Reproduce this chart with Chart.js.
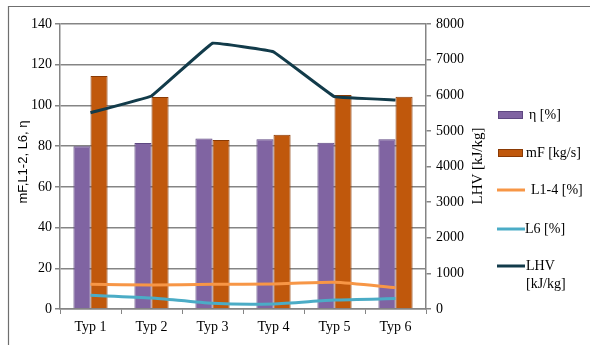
<!DOCTYPE html>
<html>
<head>
<meta charset="utf-8">
<script src="https://cdn.jsdelivr.net/npm/chart.js@4"></script>
<style>
  html, body { margin: 0; padding: 0; background: #fff; }
  #wrap { width: 590px; height: 345px; position: relative; }
</style>
</head>
<body>
<div id="wrap"><canvas id="c" width="590" height="345"></canvas></div>
<script>
// Categories and series
const categories = ['Typ 1', 'Typ 2', 'Typ 3', 'Typ 4', 'Typ 5', 'Typ 6'];
const etaValues  = [80, 81.5, 83.8, 83.4, 81.7, 83.4];       // η [%]
const mFValues   = [114.5, 104.1, 83, 85.6, 105.1, 104.3];   // mF [kg/s]
const l14Values  = [12.1, 11.8, 12.1, 12.3, 13.1, 10.5];     // L1-4 [%]
const l6Values   = [6.7, 5.4, 2.8, 2.5, 4.4, 5.1];           // L6 [%]
const lhvValues  = [5510, 5980, 7460, 7220, 5960, 5870];     // LHV [kJ/kg]

const leftTicks  = { min: 0, max: 140, step: 20 };
const rightTicks = { min: 0, max: 8000, step: 1000 };

const seriesLabels = ['η [%]', 'mF [kg/s]', 'L1-4 [%]', 'L6 [%]', 'LHV [kJ/kg]'];

const serif = "'Liberation Serif', 'Times New Roman', serif";
const gridGray = '#858585';

// Frame, axis titles and legend on the right
const decorations = {
  id: 'decorations',
  afterDraw(chart) {
    const ctx = chart.ctx;
    ctx.save();
    // frame lines
    ctx.strokeStyle = '#6f6f6f';
    ctx.lineWidth = 1.2;
    ctx.beginPath();
    ctx.moveTo(8.5, 345);
    ctx.lineTo(8.5, 6.5);
    ctx.lineTo(590, 6.5);
    ctx.stroke();

    // left axis title
    ctx.fillStyle = '#000';
    ctx.save();
    ctx.translate(23, 162);
    ctx.rotate(-Math.PI / 2);
    ctx.font = "13px 'Liberation Sans', Arial, sans-serif";
    ctx.textAlign = 'center';
    ctx.textBaseline = 'middle';
    ctx.fillText('mF,L1-2, L6, η', 0, 0);
    ctx.restore();

    // right axis title
    ctx.save();
    ctx.translate(478, 166);
    ctx.rotate(-Math.PI / 2);
    ctx.font = '15px ' + serif;
    ctx.textAlign = 'center';
    ctx.textBaseline = 'middle';
    ctx.fillText('LHV [kJ/kg]', 0, 0);
    ctx.restore();

    // legend
    const ds = chart.data.datasets;
    const rows = { 'η [%]': 115, 'mF [kg/s]': 153, 'L1-4 [%]': 190, 'L6 [%]': 229, 'LHV [kJ/kg]': 266 };
    const textX = { 'η [%]': 529, 'mF [kg/s]': 526, 'L1-4 [%]': 531, 'L6 [%]': 525, 'LHV [kJ/kg]': 526 };
    ctx.font = '14px ' + serif;
    ctx.textAlign = 'left';
    ctx.textBaseline = 'middle';
    ds.forEach((d) => {
      const y = rows[d.label];
      if (d.type === 'bar') {
        ctx.fillStyle = d.backgroundColor;
        ctx.fillRect(498, y - 4, 25, 8);
        ctx.strokeStyle = d.borderColor;
        ctx.lineWidth = 1;
        ctx.strokeRect(498.5, y - 3.5, 24, 7);
      } else {
        ctx.strokeStyle = d.borderColor;
        ctx.lineWidth = 3;
        ctx.beginPath();
        ctx.moveTo(497, y);
        ctx.lineTo(525, y);
        ctx.stroke();
      }
      ctx.fillStyle = '#000';
      const parts = d.label === 'LHV [kJ/kg]' ? ['LHV', '[kJ/kg]'] : [d.label];
      parts.forEach((p, k) => ctx.fillText(p, textX[d.label], y + k * 18));
    });
    ctx.restore();
  }
};

new Chart(document.getElementById('c'), {
  data: {
    labels: categories,
    datasets: [
      { type: 'bar', label: seriesLabels[0], data: etaValues, yAxisID: 'y',
        backgroundColor: '#8064A2', borderColor: '#5E4781', borderWidth: 1,
        categoryPercentage: 0.56, barPercentage: 1, order: 2 },
      { type: 'bar', label: seriesLabels[1], data: mFValues, yAxisID: 'y',
        backgroundColor: '#C0580C', borderColor: '#8A3A04', borderWidth: 1,
        categoryPercentage: 0.56, barPercentage: 1, order: 2 },
      { type: 'line', label: seriesLabels[2], data: l14Values, yAxisID: 'y',
        borderColor: '#F79646', borderWidth: 3, pointRadius: 0, tension: 0.2, order: 1 },
      { type: 'line', label: seriesLabels[3], data: l6Values, yAxisID: 'y',
        borderColor: '#4BACC6', borderWidth: 3, pointRadius: 0, tension: 0.2, order: 1 },
      { type: 'line', label: seriesLabels[4], data: lhvValues, yAxisID: 'y1',
        borderColor: '#123B4A', borderWidth: 3, pointRadius: 0, tension: 0.05, order: 0 }
    ]
  },
  options: {
    responsive: false,
    animation: false,
    events: [],
    layout: { padding: { left: 0, right: 0, top: 24, bottom: 0 } },
    plugins: { legend: { display: false }, tooltip: { enabled: false } },
    scales: {
      x: {
        offset: true,
        grid: { offset: true, drawOnChartArea: false, color: gridGray, tickLength: 5, lineWidth: 1 },
        border: { color: gridGray, width: 1.5 },
        ticks: { color: '#000', font: { family: serif, size: 14 }, padding: 5, maxRotation: 0 },
        afterFit(s) { s.height = 36; }
      },
      y: {
        position: 'left',
        min: leftTicks.min, max: leftTicks.max,
        ticks: { stepSize: leftTicks.step, color: '#000', font: { family: serif, size: 14 }, padding: 3 },
        grid: { color: gridGray, lineWidth: 1.5, tickLength: 5 },
        border: { color: gridGray, width: 1.5 },
        afterFit(s) { s.width = 60; }
      },
      y1: {
        position: 'right',
        min: rightTicks.min, max: rightTicks.max,
        ticks: { stepSize: rightTicks.step, color: '#000', font: { family: serif, size: 14 }, padding: 5,
                 callback: (v) => String(v) },
        grid: { drawOnChartArea: false, color: gridGray, lineWidth: 1.5, tickLength: 5 },
        border: { color: gridGray, width: 1.5 },
        afterFit(s) { s.width = 164; }
      }
    }
  },
  plugins: [decorations]
});
</script>
</body>
</html>
